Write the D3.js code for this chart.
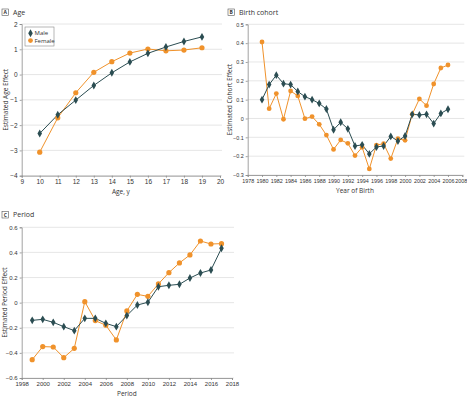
<!DOCTYPE html>
<html><head><meta charset="utf-8">
<script src="https://cdn.jsdelivr.net/npm/d3@7"></script>
<style>
body{margin:0;background:#fff;}
svg{font-family:"Open Sans","Noto Sans",sans-serif;}
</style></head><body>
<svg id="c" width="467" height="403"></svg>
<script>
// Panel A: Age
const ageX = [10,11,12,13,14,15,16,17,18,19];
const ageMale = [-2.33,-1.59,-1.01,-0.43,0.07,0.50,0.84,1.09,1.31,1.49];
const ageFemale = [-3.07,-1.71,-0.72,0.09,0.51,0.85,1.01,0.94,0.97,1.06];
const ageXTicks = [9,10,11,12,13,14,15,16,17,18,19,20];
const ageYTicks = [-4,-3,-2,-1,0,1,2];

// Panel B: Birth cohort
const cohortX = [1980,1981,1982,1983,1984,1985,1986,1987,1988,1989,1990,1991,1992,1993,1994,1995,1996,1997,1998,1999,2000,2001,2002,2003,2004,2005,2006];
const cohortMale = [0.10,0.18,0.23,0.185,0.18,0.143,0.116,0.10,0.08,0.05,-0.06,-0.02,-0.055,-0.146,-0.14,-0.188,-0.151,-0.146,-0.095,-0.12,-0.093,0.022,0.019,0.022,-0.027,0.027,0.049];
const cohortFemale = [0.406,0.052,0.132,-0.004,0.146,0.12,-0.001,0.01,-0.031,-0.088,-0.164,-0.114,-0.132,-0.197,-0.153,-0.268,-0.141,-0.134,-0.213,-0.107,-0.116,0.022,0.104,0.068,0.183,0.268,0.284];
const cohortXTicks = [1978,1980,1982,1984,1986,1988,1990,1992,1994,1996,1998,2000,2002,2004,2006,2008];
const cohortYTicks = [-0.3,-0.2,-0.1,0,0.1,0.2,0.3,0.4,0.5];

// Panel C: Period
const periodX = [1999,2000,2001,2002,2003,2004,2005,2006,2007,2008,2009,2010,2011,2012,2013,2014,2015,2016,2017];
const periodMale = [-0.141,-0.133,-0.157,-0.191,-0.223,-0.125,-0.125,-0.165,-0.191,-0.103,-0.019,0.003,0.127,0.138,0.146,0.196,0.236,0.26,0.433];
const periodFemale = [-0.454,-0.35,-0.353,-0.438,-0.364,0.008,-0.143,-0.18,-0.297,-0.066,0.066,0.05,0.149,0.239,0.316,0.38,0.491,0.467,0.47];
const periodXTicks = [1998,2000,2002,2004,2006,2008,2010,2012,2014,2016,2018];
const periodYTicks = [-0.6,-0.4,-0.2,0,0.2,0.4,0.6];

const seriesNames = ["Male","Female"];
const MALE = "#2b4d52", FEMALE = "#f0922b";

const svg = d3.select("#c");
const diamond = d3.symbol().type(d3.symbolDiamond).size(18);

function panel(o){
  const g = svg.append("g");
  const x = d3.scaleLinear().domain(o.xDom).range([o.x0,o.x1]);
  const y = d3.scaleLinear().domain(o.yDom).range([o.y1,o.y0]);
  g.selectAll(".grid").data(o.yTicks).enter().append("line")
    .attr("x1",o.x0).attr("x2",o.x1+2).attr("y1",d=>y(d)).attr("y2",d=>y(d))
    .attr("stroke","#e0e0e0").attr("stroke-width",0.8);
  const ax = g.append("g").attr("transform",`translate(0,${o.y1})`)
    .call(d3.axisBottom(x).tickValues(o.xTicks).tickSize(2).tickPadding(2).tickFormat(d3.format("d")));
  const ay = g.append("g").attr("transform",`translate(${o.x0},0)`)
    .call(d3.axisLeft(y).tickValues(o.yTicks).tickSize(2).tickPadding(2).tickFormat(o.yFmt));
  [ax,ay].forEach(a=>{
    a.select(".domain").attr("stroke","#8a8a8a").attr("stroke-width",0.8);
    a.selectAll(".tick line").attr("stroke","#8a8a8a").attr("stroke-width",0.8);
    a.selectAll("text").attr("fill","#333").style("font-size",o.fs+"px");
  });
  if(o.lastEnd){
    ax.selectAll(".tick text").filter((d,i,n)=>i===n.length-1)
      .attr("text-anchor","end").attr("x",466.8-x(o.xDom[1]));
  }
  g.append("text").attr("x",(o.x0+o.x1)/2).attr("y",o.y1+18).attr("text-anchor","middle")
    .style("font-size","6.5px").attr("fill","#333").text(o.xTitle);
  g.append("text").attr("transform",`translate(${o.yTitleX},${(o.y0+o.y1)/2}) rotate(-90)`)
    .attr("text-anchor","middle").style("font-size","6.5px").attr("fill","#333").text(o.yTitle);
  g.append("rect").attr("x",o.lx).attr("y",o.ly).attr("width",6.5).attr("height",6.5)
    .attr("fill","#fff").attr("stroke","#555").attr("stroke-width",0.6);
  g.append("text").attr("x",o.lx+3.25).attr("y",o.ly+5.2).attr("text-anchor","middle")
    .style("font-size","5px").style("font-weight","bold").attr("fill","#333").text(o.letter);
  g.append("text").attr("x",o.lx+11).attr("y",o.ly+5.6)
    .style("font-size","7px").attr("fill","#333").text(o.title);
  const line = d3.line().x((d,i)=>x(o.xs[i])).y(d=>y(d));
  g.append("path").datum(o.f).attr("d",line).attr("fill","none").attr("stroke",FEMALE).attr("stroke-width",1);
  g.append("path").datum(o.m).attr("d",line).attr("fill","none").attr("stroke",MALE).attr("stroke-width",1);
  g.selectAll(".fp").data(o.f).enter().append("circle")
    .attr("cx",(d,i)=>x(o.xs[i])).attr("cy",d=>y(d)).attr("r",o.r).attr("fill",FEMALE);
  g.selectAll(".mp").data(o.m).enter().append("path").attr("d",diamond)
    .attr("transform",(d,i)=>`translate(${x(o.xs[i])},${y(d)})`).attr("fill",MALE);
  return g;
}

const gA = panel({xDom:[9,20],yDom:[-4,2],x0:21.7,x1:220,y0:24,y1:175.7,
  xTicks:ageXTicks,yTicks:ageYTicks,yFmt:d3.format("d"),xs:ageX,m:ageMale,f:ageFemale,
  xTitle:"Age, y",yTitle:"Estimated Age Effect",yTitleX:7.5,lx:2,ly:9,letter:"A",title:"Age",fs:6.5,r:2.6});
panel({xDom:[1978,2008],yDom:[-0.3,0.5],x0:247.7,x1:462.3,y0:24.3,y1:175,lastEnd:true,
  xTicks:cohortXTicks,yTicks:cohortYTicks,yFmt:d=>d===0?"0":d3.format(".1f")(d),xs:cohortX,m:cohortMale,f:cohortFemale,
  xTitle:"Year of Birth",yTitle:"Estimated Cohort Effect",yTitleX:231.5,lx:228,ly:9,letter:"B",title:"Birth cohort",fs:5.4,r:2.4});
panel({xDom:[1998,2018],yDom:[-0.6,0.6],x0:21.7,x1:232,y0:227.3,y1:378,
  xTicks:periodXTicks,yTicks:periodYTicks,yFmt:d=>d===0?"0":d3.format(".1f")(d),xs:periodX,m:periodMale,f:periodFemale,
  xTitle:"Period",yTitle:"Estimated Period Effect",yTitleX:7,lx:2,ly:211.5,letter:"C",title:"Period",fs:6,r:2.6});

const leg = gA.append("g");
leg.append("rect").attr("x",25).attr("y",27).attr("width",29).attr("height",19)
  .attr("fill","#fff").attr("stroke","#888").attr("stroke-width",0.6);
seriesNames.forEach((n,i)=>{
  const yy = 33.3 + i*7.3;
  if(i===0) leg.append("path").attr("d",diamond).attr("transform",`translate(30.5,${yy})`).attr("fill",MALE);
  else leg.append("circle").attr("cx",30.5).attr("cy",yy).attr("r",2.4).attr("fill",FEMALE);
  leg.append("text").attr("x",34.5).attr("y",yy+2).style("font-size","6px").attr("fill","#333").text(n);
});
</script>
</body></html>
